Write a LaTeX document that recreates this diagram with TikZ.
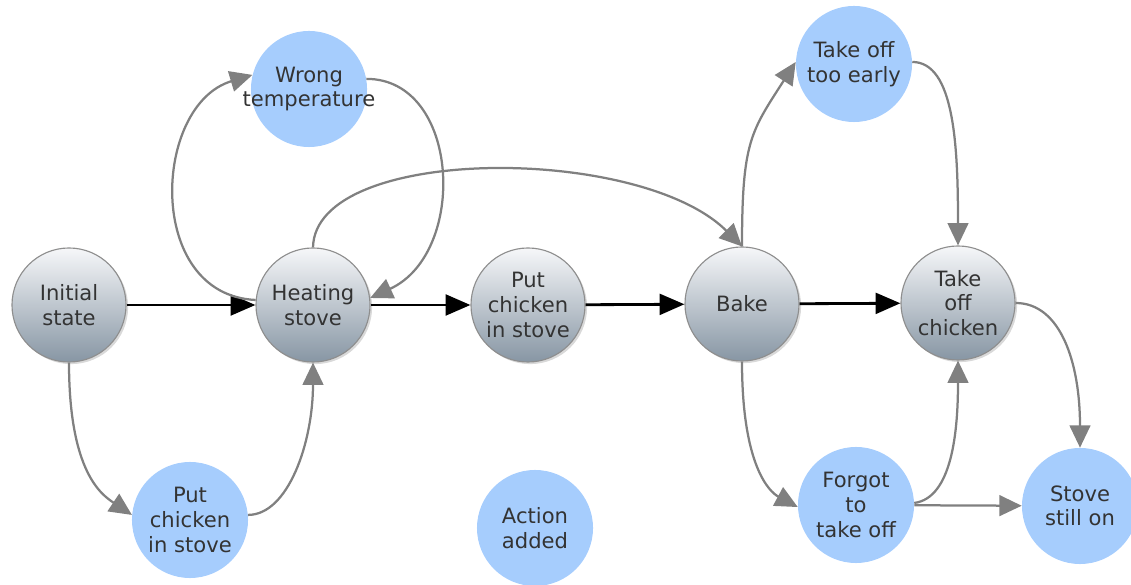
\documentclass[tikz,border=0pt]{standalone}
\usepackage{fontspec}
\setmainfont{DejaVu Sans}
\usepackage{xcolor}
\usetikzlibrary{arrows.meta,shadows}
\definecolor{eventblue}{HTML}{A6CDFD}
\definecolor{edgegray}{HTML}{808080}
\definecolor{rimgray}{HTML}{8E8E8E}
\definecolor{shadetop}{HTML}{F6F7F9}
\definecolor{shadebot}{HTML}{8796A4}
\definecolor{txtgray}{HTML}{333333}
\tikzstyle{phase} = [circle,draw=rimgray,line width=0.8pt,minimum size=2.85cm,inner sep=0pt,align=center,top color=shadetop,bottom color=shadebot,drop shadow={opacity=0.3,shadow xshift=1.5pt,shadow yshift=-1.5pt},text=txtgray,font=\fontsize{15}{17.5}\selectfont]
\tikzstyle{event} = [circle,fill=eventblue,minimum size=2.9cm,inner sep=0pt,align=center,text=txtgray,font=\fontsize{15}{17.5}\selectfont]
\tikzstyle{arrow} = [line width=2pt,black,-{Triangle[length=0.62cm,width=0.52cm]}]
\tikzstyle{grayarrow} = [line width=1.6pt,edgegray,-{Triangle[length=0.56cm,width=0.52cm]}]

\begin{document}
\begin{tikzpicture}[x=0.025cm,y=0.025cm]
            \useasboundingbox (0,0) rectangle (1131,585);
            % states
            \node[phase] (init) at (69,280) {Initial \\ state};
            \node[phase] (heat) at (313,280) {Heating \\ stove};
            \node[phase] (putin) at (528,280) {Put \\ chicken \\ in stove};
            \node[phase] (bake) at (742,281) {Bake};
            \node[phase] (takeoff) at (958,282) {Take \\ off \\ chicken};
            % added actions
            \node[event] (wrong) at (309,496) {Wrong \\ \makebox[0pt]{temperature}};
            \node[event] (early) at (854,521) {Take off \\ too early};
            \node[event] (putin2) at (190,65) {Put \\ chicken \\ in stove};
            \node[event] (added) at (535,57) {Action \\ added};
            \node[event] (forgot) at (856,80) {Forgot \\ to \\ take off};
            \node[event] (stillon) at (1080,79) {Stove \\ still on};
            % main line
            \draw[arrow] (init) -- (heat);
            \draw[arrow] (heat) -- (putin);
            \draw[arrow] (putin) -- (bake);
            \draw[arrow] (bake) -- (takeoff);
            % side paths
            \draw[grayarrow] (init.south) .. controls +(0,-110) and +(-30,20) .. (putin2.175);
            \draw[grayarrow] (putin2.5) .. controls +(40,0) and +(0,-80) .. (heat.south);
            \draw[grayarrow] (heat.175) .. controls +(-111,5) and +(-100,-30) .. (wrong.166);
            \draw[grayarrow] (wrong.10) .. controls +(94,0) and +(98,45) .. (heat.7);
            \draw[grayarrow] (heat.north) .. controls +(2,103) and +(-102,102) .. (bake.north);
            \draw[grayarrow] (bake.north) .. controls +(0,105) and +(-45,-70) .. (early.178);
            \draw[grayarrow] (early.2) .. controls +(42,0) and +(0,100) .. (takeoff.north);
            \draw[grayarrow] (bake.south) .. controls +(0,-105) and +(-28,15) .. (forgot.182);
            \draw[grayarrow] (forgot.2) .. controls +(38,5) and +(0,-70) .. (takeoff.south);
            \draw[grayarrow] (forgot) -- (stillon);
            \draw[grayarrow] (takeoff.east) .. controls +(45,0) and +(0,85) .. (stillon.north);
        \end{tikzpicture}
\end{document}
